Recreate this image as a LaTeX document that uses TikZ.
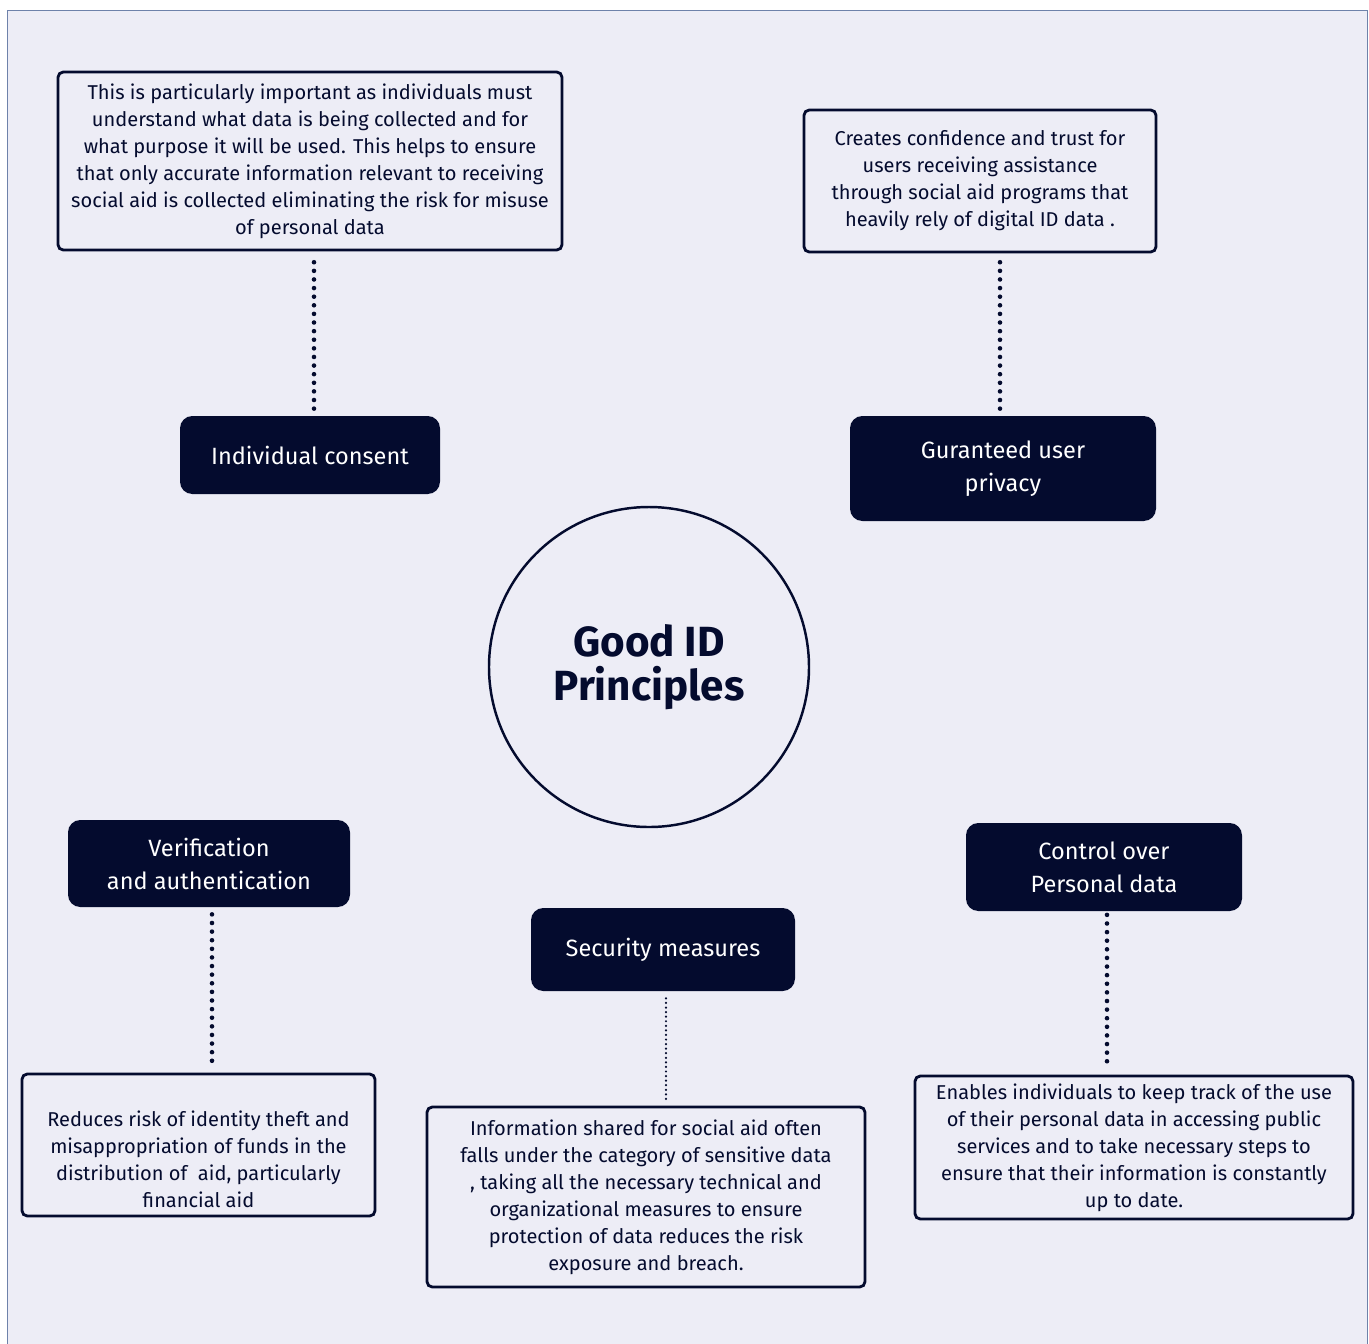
\documentclass[tikz,border=0pt]{standalone}
\usepackage{fontspec}
\setmainfont{Fira Sans}
\usepackage{tikz}
\definecolor{navy}{RGB}{4, 11, 46}
\definecolor{paper}{RGB}{237, 237, 246}
\definecolor{edge}{RGB}{110, 130, 170}
\usetikzlibrary{positioning, calc}

\begin{document}
\begin{tikzpicture}[
    descbox/.style={draw=navy, line width=1.6pt, rounded corners=3pt,
                    align=center, text=navy, inner sep=0pt,
                    font=\fontsize{11.4}{15.4}\selectfont},
    principle/.style={fill=navy, rounded corners=7pt, text=white,
                      align=center, inner sep=0pt,
                      font=\fontsize{13.4}{18.8}\selectfont},
    dotline/.style={navy, line width=2.6pt, line cap=round,
                    dash pattern=on 0pt off 4.9pt}
]
    % Background
    \useasboundingbox (0,0) rectangle (27.38,-26.86);
    \fill[white] (0,0) rectangle (27.38,-26.86);
    \draw[edge, line width=0.5pt, fill=paper] (0.14,-27) -- (0.14,-0.2) -- (27.34,-0.2) -- (27.34,-27);

    % Centre
    \node[draw=navy, line width=1.4pt, circle, minimum size=6.4cm, align=center,
          text=navy, font=\fontsize{24}{25}\selectfont\bfseries] (good) at (12.98,-13.34) {Good ID\\Principles};

    % Principles
    \node[principle, minimum width=5.2cm, minimum height=1.56cm] (consent) at (6.2,-9.1) {Individual consent};
    \node[principle, minimum width=6.12cm, minimum height=2.1cm] (privacy) at (20.06,-9.37) {Guranteed user\\privacy};
    \node[principle, minimum width=5.64cm, minimum height=1.74cm] (verif) at (4.18,-17.27) {Verification\\and authentication};
    \node[principle, minimum width=5.28cm, minimum height=1.66cm] (security) at (13.26,-18.99) {Security measures};
    \node[principle, minimum width=5.52cm, minimum height=1.76cm] (control) at (22.08,-17.34) {Control over\\Personal data};

    % Descriptions
    \node[descbox, minimum width=10.08cm, minimum height=3.56cm] (consentdesc) at (6.2,-3.22) {This is particularly important as individuals must\\understand what data is being collected and for\\what purpose it will be used. This helps to ensure\\that only accurate information relevant to receiving\\social aid is collected eliminating the risk for misuse\\of personal data};
    \node[descbox, minimum width=7.04cm, minimum height=2.84cm] (privacydesc) at (19.6,-3.62) {Creates confidence and trust for\\users receiving assistance\\through social aid programs that\\heavily rely of digital ID data .};
    \node[descbox, minimum width=7.06cm, minimum height=2.84cm] (verifdesc) at (3.97,-22.9) {\rule{0pt}{0.9cm}Reduces risk of identity theft and\\misappropriation of funds in the\\distribution of~ aid, particularly\\financial aid};
    \node[descbox, minimum width=8.76cm, minimum height=3.6cm] (securitydesc) at (12.92,-23.94) {Information shared for social aid often\\falls under the category of sensitive data\\, taking all the necessary technical and\\organizational measures to ensure\\protection of data reduces the risk\\exposure and breach.};
    \node[descbox, minimum width=8.76cm, minimum height=2.86cm] (controldesc) at (22.68,-22.95) {Enables individuals to keep track of the use\\of their personal data in accessing public\\services and to take necessary steps to\\ensure that their information is constantly\\up to date.};

    % Dotted links
    \draw[dotline, shorten <=4pt, shorten >=4pt] ([xshift=0.08cm]consent.north) -- ([xshift=0.08cm]consent.north |- consentdesc.south);
    \draw[dotline, shorten <=4pt, shorten >=4pt] ([xshift=-0.06cm]privacy.north) -- ([xshift=-0.06cm]privacy.north |- privacydesc.south);
    \draw[dotline, shorten <=4pt, shorten >=4pt] ([xshift=0.06cm]verif.south) -- ([xshift=0.06cm]verif.south |- verifdesc.north);
    \draw[dotline, line width=1.4pt, dash pattern=on 0pt off 2.6pt, shorten <=4pt, shorten >=2pt] ([xshift=0.06cm]security.south) -- ([xshift=0.06cm]security.south |- securitydesc.north);
    \draw[dotline, shorten <=2pt, shorten >=5pt] ([xshift=0.06cm]control.south) -- ([xshift=0.06cm]control.south |- controldesc.north);
\end{tikzpicture}
\end{document}
